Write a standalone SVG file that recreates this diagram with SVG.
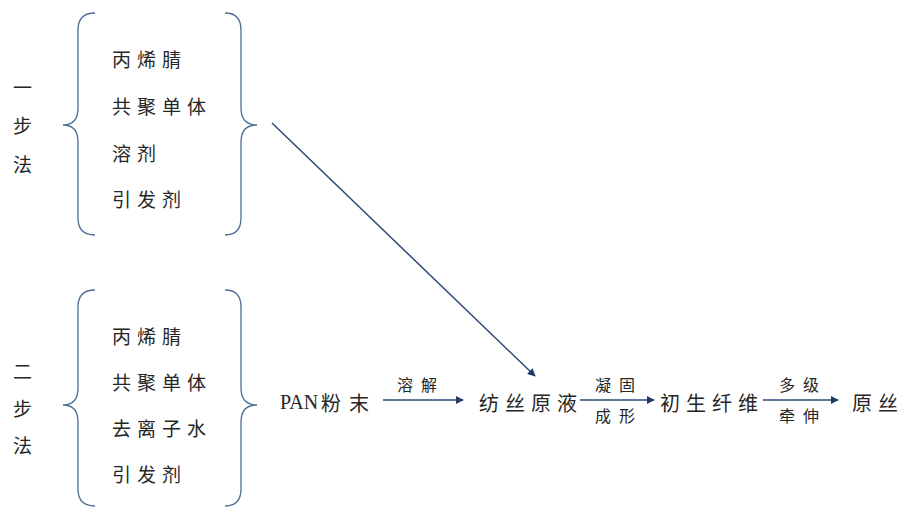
<svg xmlns="http://www.w3.org/2000/svg" width="905" height="511" viewBox="0 0 905 511">
  <defs>
    <marker id="arrow" viewBox="0 0 10 10" refX="9" refY="5" markerWidth="8" markerHeight="8" markerUnits="userSpaceOnUse" orient="auto">
      <path d="M0,0 L10,5 L0,10 Z" fill="#1F3864"/>
    </marker>
    <style>
      .cjk { font-family: "Noto Sans CJK SC", "Noto Sans CJK TC", sans-serif; fill: #262626; dominant-baseline: central; }
      .item { font-size: 19px; letter-spacing: 6px; }
      .side { font-size: 19px; }
      .main { font-size: 20px; letter-spacing: 6px; }
      .lbl { font-size: 16px; letter-spacing: 8px; }
      .latin { font-family: "Liberation Serif", serif; font-size: 20px; fill: #262626; dominant-baseline: central; }
      .brace { fill: none; stroke: #4F6C98; stroke-width: 1.3; }
      .flow { fill: none; stroke: #2E4A7A; stroke-width: 1.5; marker-end: url(#arrow); }
    </style>
  </defs>
  <rect width="905" height="511" fill="#ffffff"/>

  <!-- one-step method: monomer mixture -->
  <g id="one-step">
    <text class="cjk side" x="13" y="86">一</text>
    <text class="cjk side" x="13" y="124">步</text>
    <text class="cjk side" x="13" y="163">法</text>
    <path class="brace" d="M95,13 Q78,13 78,30 L78,108 Q78,125 63,125 Q78,125 78,142 L78,218 Q78,235 95,235"/>
    <path class="brace" d="M225,13 Q241,13 241,30 L241,108 Q241,125 257,125 Q241,125 241,142 L241,218 Q241,235 225,235"/>
    <text class="cjk item" x="112" y="58">丙烯腈</text>
    <text class="cjk item" x="112" y="105">共聚单体</text>
    <text class="cjk item" x="112" y="152">溶剂</text>
    <text class="cjk item" x="112" y="198">引发剂</text>
  </g>

  <!-- two-step method: polymerisation mixture -->
  <g id="two-step">
    <text class="cjk side" x="13" y="370">二</text>
    <text class="cjk side" x="13" y="407">步</text>
    <text class="cjk side" x="13" y="444">法</text>
    <path class="brace" d="M95,290 Q78,290 78,307 L78,388 Q78,405 63,405 Q78,405 78,422 L78,489 Q78,506 95,506"/>
    <path class="brace" d="M225,290 Q241,290 241,307 L241,388 Q241,405 257,405 Q241,405 241,422 L241,489 Q241,506 225,506"/>
    <text class="cjk item" x="112" y="335">丙烯腈</text>
    <text class="cjk item" x="112" y="381">共聚单体</text>
    <text class="cjk item" x="112" y="427">去离子水</text>
    <text class="cjk item" x="112" y="473">引发剂</text>
  </g>

  <!-- process chain -->
  <g id="pan-powder">
    <text class="latin" x="280" y="402">PAN</text>
    <text class="cjk main" x="321" y="402" style="letter-spacing:8px">粉末</text>
  </g>
  <g id="spinning-dope">
    <text class="cjk main" x="479" y="402">纺丝原液</text>
  </g>
  <g id="as-spun-fiber">
    <text class="cjk main" x="660" y="402">初生纤维</text>
  </g>
  <g id="precursor">
    <text class="cjk main" x="852" y="402">原丝</text>
  </g>

  <g id="connectors">
    <line class="flow" x1="272" y1="123" x2="535" y2="376"/>
    <line class="flow" x1="383" y1="400" x2="463" y2="400"/>
    <line class="flow" x1="580" y1="400" x2="654" y2="400"/>
    <line class="flow" x1="763" y1="400" x2="838" y2="400"/>
    <text class="cjk lbl" x="397" y="384">溶解</text>
    <text class="cjk lbl" x="595" y="384">凝固</text>
    <text class="cjk lbl" x="595" y="415">成形</text>
    <text class="cjk lbl" x="779" y="384">多级</text>
    <text class="cjk lbl" x="779" y="415">牵伸</text>
  </g>
</svg>
